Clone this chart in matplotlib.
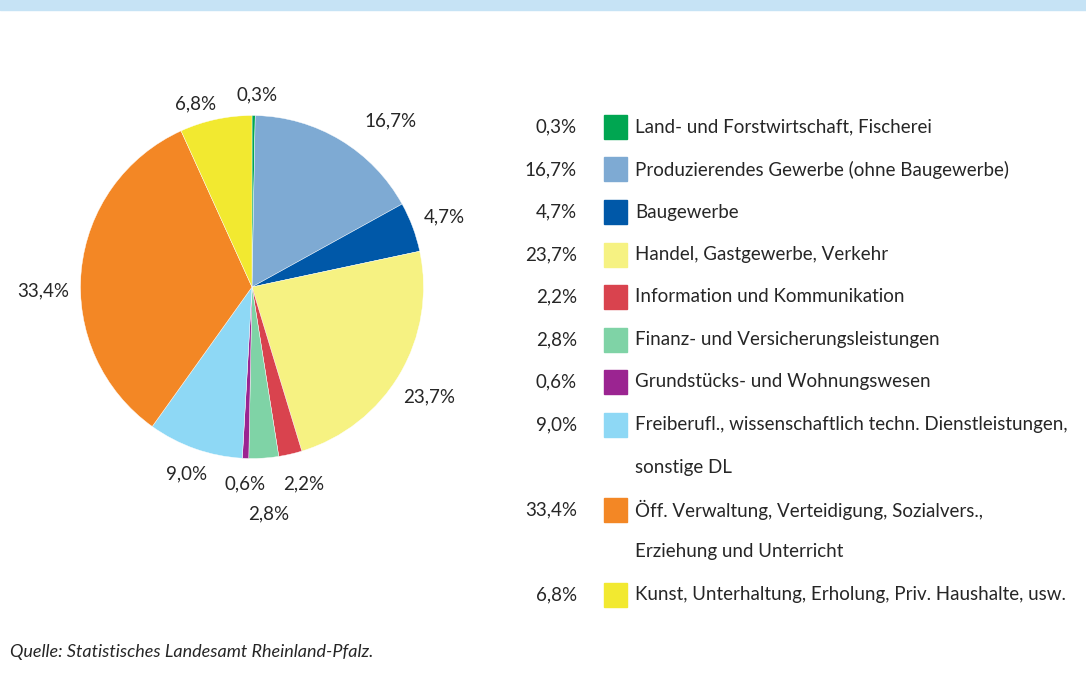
import matplotlib.pyplot as plt
from matplotlib.patches import Rectangle

plt.rcParams['font.family'] = ['Lato', 'DejaVu Sans']

# Anteile in Prozent
anteile = [0.3, 16.7, 4.7, 23.7, 2.2, 2.8, 0.6, 9.0, 33.4, 6.8]
labels = ["0,3%", "16,7%", "4,7%", "23,7%", "2,2%", "2,8%", "0,6%", "9,0%", "33,4%", "6,8%"]
bereiche = [
    "Land- und Forstwirtschaft, Fischerei",
    "Produzierendes Gewerbe (ohne Baugewerbe)",
    "Baugewerbe",
    "Handel, Gastgewerbe, Verkehr",
    "Information und Kommunikation",
    "Finanz- und Versicherungsleistungen",
    "Grundstücks- und Wohnungswesen",
    "Freiberufl., wissenschaftlich techn. Dienstleistungen,\nsonstige DL",
    "Öff. Verwaltung, Verteidigung, Sozialvers.,\nErziehung und Unterricht",
    "Kunst, Unterhaltung, Erholung, Priv. Haushalte, usw.",
]
farben = ["#00a651", "#7eaad3", "#0058a8", "#f6f282", "#d9434e",
          "#7fd3a6", "#9b2491", "#8ed8f5", "#f38725", "#f2e930"]

# Lage der Beschriftungen um den Kreis (in Radius-Einheiten)
label_pos = [(0.03, 1.12), (0.81, 0.97), (1.12, 0.41), (1.03, -0.64), (0.30, -1.15),
             (0.10, -1.32), (-0.04, -1.15), (-0.38, -1.09), (-1.22, -0.02), (-0.33, 1.07)]

W, H = 1086, 690
txt = "#262626"
fs = 13.5
fig = plt.figure(figsize=(W / 100, H / 100), dpi=100)

# hellblauer Streifen oben
fig.patches.append(Rectangle((0, 1 - 10 / H), 1, 10 / H, transform=fig.transFigure,
                             color="#c6e3f5", zorder=0))

# Kreisdiagramm
R = 171.5
cx, cy = 252, 287
half = 200
ax = fig.add_axes([(cx - half) / W, (H - cy - half) / H, 2 * half / W, 2 * half / H])
ax.pie(anteile, colors=farben, startangle=90, counterclock=False, radius=1,
       wedgeprops=dict(linewidth=0.3, edgecolor="white"))
ax.set_xlim(-half / R, half / R)
ax.set_ylim(-half / R, half / R)
ax.set_aspect("equal")
ax.axis("off")
for (x, y), lab in zip(label_pos, labels):
    ax.text(x, y, lab, ha="center", va="center", fontsize=fs, color=txt)

# Legende
row_h = 42.5
y0 = 127
row = 0
for lab, name, col in zip(labels, bereiche, farben):
    y = y0 + row * row_h
    fig.text(577 / W, 1 - y / H, lab, ha="right", va="center", fontsize=fs, color=txt)
    fig.patches.append(Rectangle((604 / W, 1 - (y + 12) / H), 23 / W, 24 / H,
                                 transform=fig.transFigure, color=col))
    for k, line in enumerate(name.split("\n")):
        fig.text(635 / W, 1 - (y + k * row_h) / H, line, ha="left", va="center",
                 fontsize=fs, color=txt)
    row += len(name.split("\n"))

fig.text(10 / W, 1 - 652 / H, "Quelle: Statistisches Landesamt Rheinland-Pfalz.",
         ha="left", va="center", fontsize=13, style="italic", color=txt)

fig.savefig("out.png", dpi=100)
